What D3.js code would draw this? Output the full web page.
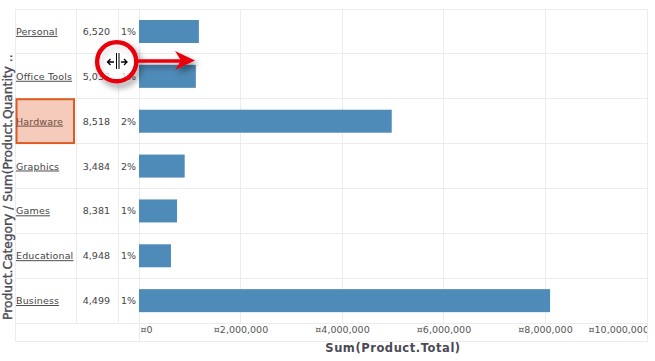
<!DOCTYPE html>
<html>
<head>
<meta charset="utf-8">
<script src="https://cdn.jsdelivr.net/npm/d3@7"></script>
<style>
  body { margin: 0; background: #fff; }
  text { font-family: "DejaVu Sans", sans-serif; }
</style>
</head>
<body>
<svg id="chart" width="655" height="361" style="display:block"></svg>
<script>
const categories = ["Personal", "Office Tools", "Hardware", "Graphics", "Games", "Educational", "Business"];
const quantities = ["6,520", "5,037", "8,518", "3,484", "8,381", "4,948", "4,499"];
const percents = ["1%", "1%", "2%", "2%", "1%", "1%", "1%"];
const totals = [1180000, 1120000, 4980000, 900000, 750000, 630000, 8100000];
const tickValues = [0, 2000000, 4000000, 6000000, 8000000, 10000000];

const gridColor = "#ececec", textColor = "#444";
const gridLeft = 15, colQty = 76, colPct = 118, plotLeft = 139, gridRight = 647;
const gridTop = 9, rowsBottom = 323, gridBottom = 341;

const svg = d3.select("#chart");

const x = d3.scaleLinear().domain([0, 10000000]).range([plotLeft, 646.5]);
const y = d3.scaleBand().domain(categories).range([gridTop, rowsBottom]);

// clip so the last tick label gets cut at the plot edge like the original
svg.append("defs").append("clipPath").attr("id", "plotClip")
  .append("rect").attr("x", 0).attr("y", 0).attr("width", gridRight).attr("height", 361);

// Grid
const grid = svg.append("g").attr("stroke", gridColor).attr("fill", "none").attr("shape-rendering", "crispEdges");
grid.append("rect").attr("x", gridLeft).attr("y", gridTop).attr("width", gridRight - gridLeft).attr("height", gridBottom - gridTop);
grid.selectAll("line.row")
  .data(categories.slice(1).concat("end"))
  .join("line")
    .attr("x1", gridLeft).attr("x2", gridRight)
    .attr("y1", d => d === "end" ? rowsBottom : y(d))
    .attr("y2", d => d === "end" ? rowsBottom : y(d));
grid.selectAll("line.col")
  .data([colQty, colPct])
  .join("line")
    .attr("x1", d => d).attr("x2", d => d)
    .attr("y1", gridTop).attr("y2", rowsBottom);
grid.append("line").attr("x1", plotLeft).attr("x2", plotLeft).attr("y1", gridTop).attr("y2", gridBottom);
grid.selectAll("line.v")
  .data(tickValues.slice(1, -1))
  .join("line")
    .attr("x1", d => x(d)).attr("x2", d => x(d))
    .attr("y1", gridTop).attr("y2", rowsBottom);

// Selected cell
svg.append("rect")
  .attr("x", 16.5).attr("y", y("Hardware") + 0.5)
  .attr("width", 57.5).attr("height", y.step() - 1)
  .attr("fill", "#f5cbbb").attr("stroke", "#df5a20").attr("stroke-width", 2);

// Bars
const barH = 23;
svg.selectAll("rect.bar")
  .data(categories)
  .join("rect")
    .attr("class", "bar")
    .attr("x", plotLeft)
    .attr("y", d => y(d) + 11)
    .attr("width", (d, i) => x(totals[i]) - plotLeft)
    .attr("height", barH)
    .attr("fill", "#4f8bb8");

// Table columns
const rowY = d => y(d) + y.step() / 2 + 3.5;
svg.selectAll("text.cat")
  .data(categories)
  .join("text")
    .attr("x", 16)
    .attr("y", rowY)
    .attr("font-size", 9.5)
    .attr("letter-spacing", 0.15)
    .attr("fill", d => d === "Hardware" ? "#6b4a40" : textColor)
    .attr("text-decoration", "underline")
    .text(d => d);
svg.selectAll("text.qty")
  .data(categories)
  .join("text")
    .attr("x", 110)
    .attr("y", rowY)
    .attr("text-anchor", "end")
    .attr("font-size", 9.5)
    .attr("fill", textColor)
    .text((d, i) => quantities[i]);
svg.selectAll("text.pct")
  .data(categories)
  .join("text")
    .attr("x", 136)
    .attr("y", rowY)
    .attr("text-anchor", "end")
    .attr("font-size", 9.5)
    .attr("fill", textColor)
    .text((d, i) => percents[i]);

// X axis
const axis = svg.append("g")
  .attr("transform", `translate(0,${rowsBottom})`)
  .attr("clip-path", "url(#plotClip)")
  .call(d3.axisBottom(x).tickValues(tickValues).tickSize(0).tickPadding(3)
    .tickFormat(d => "¤" + d3.format(",")(d)));
axis.select(".domain").remove();
axis.selectAll("text")
  .attr("font-size", 9.5)
  .attr("font-family", "DejaVu Sans")
  .attr("fill", "#555")
  .attr("text-anchor", d => d === 0 || d === 10000000 ? "start" : "middle")
  .attr("dx", d => d === 0 ? 1 : d === 10000000 ? -58.5 : 0);

// Axis titles
svg.append("text")
  .attr("x", 393).attr("y", 352)
  .attr("text-anchor", "middle")
  .attr("font-size", 11.5).attr("font-weight", "bold")
  .attr("letter-spacing", 0.55)
  .attr("fill", "#4a4a55")
  .text("Sum(Product.Total)");
svg.append("text")
  .attr("transform", "translate(12,320) rotate(-90)")
  .attr("font-size", 12.25)
  .attr("fill", "#4a4a55")
  .attr("stroke", "#4a4a55").attr("stroke-width", 0.35)
  .text("Product.Category / Sum(Product.Quantity ..");

// Resize cursor callout
const shadow = svg.select("defs").append("filter").attr("id", "shadow")
  .attr("x", "-30%").attr("y", "-30%").attr("width", "170%").attr("height", "170%");
shadow.append("feDropShadow").attr("dx", 3).attr("dy", 4).attr("stdDeviation", 3)
  .attr("flood-color", "#000").attr("flood-opacity", 0.45);

const note = svg.append("g").attr("filter", "url(#shadow)");
note.append("circle").attr("cx", 116.7).attr("cy", 61.7).attr("r", 19.5)
  .attr("fill", "none")
  .attr("stroke", "#e8000c").attr("stroke-width", 4.5);
note.append("line").attr("x1", 137).attr("x2", 185).attr("y1", 61).attr("y2", 61)
  .attr("stroke", "#e8000c").attr("stroke-width", 3.5);
note.append("path").attr("d", "M175,51 L195,60.5 L175,70 L181,60.5 Z").attr("fill", "#e8000c");

// inside of the circle, mostly hides what is under it
svg.append("circle").attr("cx", 116.7).attr("cy", 61.7).attr("r", 17.3)
  .attr("fill", "#fff").attr("fill-opacity", 0.75);

const cursor = svg.append("g").attr("stroke", "#000").attr("fill", "none").attr("stroke-width", 1.3);
cursor.append("path").attr("d", "M116.5,53 V69 M119,53 V69").attr("stroke-width", 1);
cursor.append("path").attr("d", "M107.5,62 H114 M110.5,59 L107.5,62 L110.5,65");
cursor.append("path").attr("d", "M121,62 H127 M124,59 L127,62 L124,65");
</script>
</body>
</html>
